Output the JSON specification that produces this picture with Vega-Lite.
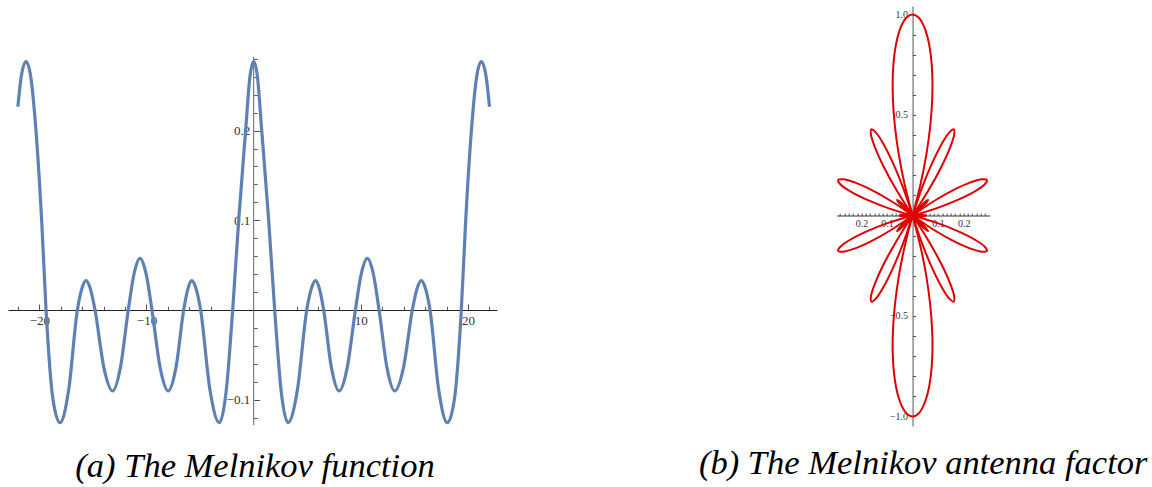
{
  "$schema": "https://vega.github.io/schema/vega-lite/v6.json",
  "background": "white",
  "padding": {"left": 8, "top": 6, "right": 0, "bottom": 0},
  "autosize": {"type": "pad"},
  "bounds": "flush",
  "spacing": 339.7,
  "config": {
    "view": {"stroke": null},
    "axis": {"grid": false, "labelFont": "Liberation Serif", "labelColor": "#333", "domainColor": "#444", "tickColor": "#555", "labelOverlap": false, "labelFlush": false, "domainWidth": 1, "tickWidth": 1}
  },
  "datasets": {
    "melnikov": [
      {"x": -22, "y": 0.2266}, {"x": -21.7, "y": 0.259}, {"x": -21.24, "y": 0.277}, {"x": -20.8, "y": 0.26}, {"x": -20.31, "y": 0.2}, {"x": -19.78, "y": 0.1}, {"x": -19.37, "y": 0}, {"x": -18.72, "y": -0.1}, {"x": -18.07, "y": -0.1256}, {"x": -17.26, "y": -0.089}, {"x": -16.45, "y": 0}, {"x": -16.05, "y": 0.023}, {"x": -15.64, "y": 0.0327}, {"x": -15.22, "y": 0.023}, {"x": -14.8, "y": 0}, {"x": -13.98, "y": -0.064}, {"x": -13.16, "y": -0.0903}, {"x": -12.43, "y": -0.064}, {"x": -11.7, "y": 0}, {"x": -11.15, "y": 0.041}, {"x": -10.6, "y": 0.0576}, {"x": -10.05, "y": 0.041}, {"x": -9.49, "y": 0}, {"x": -8.73, "y": -0.064}, {"x": -7.97, "y": -0.0903}, {"x": -7.25, "y": -0.064}, {"x": -6.53, "y": 0}, {"x": -6.15, "y": 0.023}, {"x": -5.78, "y": 0.0327}, {"x": -5.36, "y": 0.023}, {"x": -4.95, "y": 0}, {"x": -4.08, "y": -0.089}, {"x": -3.2, "y": -0.1256}, {"x": -2.58, "y": -0.092}, {"x": -1.96, "y": 0}, {"x": -1.4, "y": 0.1}, {"x": -0.75, "y": 0.2}, {"x": -0.35, "y": 0.26}, {"x": 0, "y": 0.277},
      {"x": 0.35, "y": 0.26}, {"x": 0.75, "y": 0.2}, {"x": 1.4, "y": 0.1}, {"x": 1.96, "y": 0}, {"x": 2.58, "y": -0.092}, {"x": 3.2, "y": -0.1256}, {"x": 4.08, "y": -0.089}, {"x": 4.95, "y": 0}, {"x": 5.36, "y": 0.023}, {"x": 5.78, "y": 0.0327}, {"x": 6.15, "y": 0.023}, {"x": 6.53, "y": 0}, {"x": 7.25, "y": -0.064}, {"x": 7.97, "y": -0.0903}, {"x": 8.73, "y": -0.064}, {"x": 9.49, "y": 0}, {"x": 10.05, "y": 0.041}, {"x": 10.6, "y": 0.0576}, {"x": 11.15, "y": 0.041}, {"x": 11.7, "y": 0}, {"x": 12.43, "y": -0.064}, {"x": 13.16, "y": -0.0903}, {"x": 13.98, "y": -0.064}, {"x": 14.8, "y": 0}, {"x": 15.22, "y": 0.023}, {"x": 15.64, "y": 0.0327}, {"x": 16.05, "y": 0.023}, {"x": 16.45, "y": 0}, {"x": 17.26, "y": -0.089}, {"x": 18.07, "y": -0.1256}, {"x": 18.72, "y": -0.1}, {"x": 19.37, "y": 0}, {"x": 19.78, "y": 0.1}, {"x": 20.31, "y": 0.2}, {"x": 20.8, "y": 0.26}, {"x": 21.24, "y": 0.277}, {"x": 21.7, "y": 0.259}, {"x": 22, "y": 0.2266}
    ],
    "antenna": [
      {"lobe": "A", "i": 0, "x": 0, "y": 0}, {"lobe": "A", "i": 1, "x": -0.0305, "y": 0.1515}, {"lobe": "A", "i": 2, "x": -0.0538, "y": 0.3013}, {"lobe": "A", "i": 3, "x": -0.0692, "y": 0.4453}, {"lobe": "A", "i": 4, "x": -0.077, "y": 0.5796}, {"lobe": "A", "i": 5, "x": -0.0773, "y": 0.7002}, {"lobe": "A", "i": 6, "x": -0.0708, "y": 0.804}, {"lobe": "A", "i": 7, "x": -0.0586, "y": 0.8879}, {"lobe": "A", "i": 8, "x": -0.0417, "y": 0.9496}, {"lobe": "A", "i": 9, "x": -0.0216, "y": 0.9873}, {"lobe": "A", "i": 10, "x": 0, "y": 1}, {"lobe": "A", "i": 11, "x": 0.0216, "y": 0.9873}, {"lobe": "A", "i": 12, "x": 0.0417, "y": 0.9496}, {"lobe": "A", "i": 13, "x": 0.0586, "y": 0.8879}, {"lobe": "A", "i": 14, "x": 0.0708, "y": 0.804}, {"lobe": "A", "i": 15, "x": 0.0773, "y": 0.7002}, {"lobe": "A", "i": 16, "x": 0.077, "y": 0.5796}, {"lobe": "A", "i": 17, "x": 0.0692, "y": 0.4453}, {"lobe": "A", "i": 18, "x": 0.0538, "y": 0.3013}, {"lobe": "A", "i": 19, "x": 0.0305, "y": 0.1515}, {"lobe": "A", "i": 20, "x": 0, "y": 0},
      {"lobe": "B", "i": 0, "x": 0, "y": 0}, {"lobe": "B", "i": 1, "x": -0.0305, "y": -0.1515}, {"lobe": "B", "i": 2, "x": -0.0538, "y": -0.3013}, {"lobe": "B", "i": 3, "x": -0.0692, "y": -0.4453}, {"lobe": "B", "i": 4, "x": -0.077, "y": -0.5796}, {"lobe": "B", "i": 5, "x": -0.0773, "y": -0.7002}, {"lobe": "B", "i": 6, "x": -0.0708, "y": -0.804}, {"lobe": "B", "i": 7, "x": -0.0586, "y": -0.8879}, {"lobe": "B", "i": 8, "x": -0.0417, "y": -0.9496}, {"lobe": "B", "i": 9, "x": -0.0216, "y": -0.9873}, {"lobe": "B", "i": 10, "x": 0, "y": -1}, {"lobe": "B", "i": 11, "x": 0.0216, "y": -0.9873}, {"lobe": "B", "i": 12, "x": 0.0417, "y": -0.9496}, {"lobe": "B", "i": 13, "x": 0.0586, "y": -0.8879}, {"lobe": "B", "i": 14, "x": 0.0708, "y": -0.804}, {"lobe": "B", "i": 15, "x": 0.0773, "y": -0.7002}, {"lobe": "B", "i": 16, "x": 0.077, "y": -0.5796}, {"lobe": "B", "i": 17, "x": 0.0692, "y": -0.4453}, {"lobe": "B", "i": 18, "x": 0.0538, "y": -0.3013}, {"lobe": "B", "i": 19, "x": 0.0305, "y": -0.1515}, {"lobe": "B", "i": 20, "x": 0, "y": 0},
      {"lobe": "M1", "i": 0, "x": 0, "y": 0}, {"lobe": "M1", "i": 1, "x": 0.0618, "y": 0.1241}, {"lobe": "M1", "i": 2, "x": 0.1121, "y": 0.2404}, {"lobe": "M1", "i": 3, "x": 0.1464, "y": 0.3365}, {"lobe": "M1", "i": 4, "x": 0.1629, "y": 0.402}, {"lobe": "M1", "i": 5, "x": 0.1614, "y": 0.4289}, {"lobe": "M1", "i": 6, "x": 0.1439, "y": 0.4136}, {"lobe": "M1", "i": 7, "x": 0.1141, "y": 0.3563}, {"lobe": "M1", "i": 8, "x": 0.0769, "y": 0.2618}, {"lobe": "M1", "i": 9, "x": 0.0372, "y": 0.1391}, {"lobe": "M1", "i": 10, "x": 0, "y": 0},
      {"lobe": "M2", "i": 0, "x": 0, "y": 0}, {"lobe": "M2", "i": 1, "x": -0.0618, "y": 0.1241}, {"lobe": "M2", "i": 2, "x": -0.1121, "y": 0.2404}, {"lobe": "M2", "i": 3, "x": -0.1464, "y": 0.3365}, {"lobe": "M2", "i": 4, "x": -0.1629, "y": 0.402}, {"lobe": "M2", "i": 5, "x": -0.1614, "y": 0.4289}, {"lobe": "M2", "i": 6, "x": -0.1439, "y": 0.4136}, {"lobe": "M2", "i": 7, "x": -0.1141, "y": 0.3563}, {"lobe": "M2", "i": 8, "x": -0.0769, "y": 0.2618}, {"lobe": "M2", "i": 9, "x": -0.0372, "y": 0.1391}, {"lobe": "M2", "i": 10, "x": 0, "y": 0},
      {"lobe": "M3", "i": 0, "x": 0, "y": 0}, {"lobe": "M3", "i": 1, "x": 0.0618, "y": -0.1241}, {"lobe": "M3", "i": 2, "x": 0.1121, "y": -0.2404}, {"lobe": "M3", "i": 3, "x": 0.1464, "y": -0.3365}, {"lobe": "M3", "i": 4, "x": 0.1629, "y": -0.402}, {"lobe": "M3", "i": 5, "x": 0.1614, "y": -0.4289}, {"lobe": "M3", "i": 6, "x": 0.1439, "y": -0.4136}, {"lobe": "M3", "i": 7, "x": 0.1141, "y": -0.3563}, {"lobe": "M3", "i": 8, "x": 0.0769, "y": -0.2618}, {"lobe": "M3", "i": 9, "x": 0.0372, "y": -0.1391}, {"lobe": "M3", "i": 10, "x": 0, "y": 0},
      {"lobe": "M4", "i": 0, "x": 0, "y": 0}, {"lobe": "M4", "i": 1, "x": -0.0618, "y": -0.1241}, {"lobe": "M4", "i": 2, "x": -0.1121, "y": -0.2404}, {"lobe": "M4", "i": 3, "x": -0.1464, "y": -0.3365}, {"lobe": "M4", "i": 4, "x": -0.1629, "y": -0.402}, {"lobe": "M4", "i": 5, "x": -0.1614, "y": -0.4289}, {"lobe": "M4", "i": 6, "x": -0.1439, "y": -0.4136}, {"lobe": "M4", "i": 7, "x": -0.1141, "y": -0.3563}, {"lobe": "M4", "i": 8, "x": -0.0769, "y": -0.2618}, {"lobe": "M4", "i": 9, "x": -0.0372, "y": -0.1391}, {"lobe": "M4", "i": 10, "x": 0, "y": 0},
      {"lobe": "H1", "i": 0, "x": 0, "y": 0}, {"lobe": "H1", "i": 1, "x": 0.0954, "y": 0.0368}, {"lobe": "H1", "i": 2, "x": 0.1793, "y": 0.0786}, {"lobe": "H1", "i": 3, "x": 0.2435, "y": 0.1198}, {"lobe": "H1", "i": 4, "x": 0.2819, "y": 0.1543}, {"lobe": "H1", "i": 5, "x": 0.2914, "y": 0.1763}, {"lobe": "H1", "i": 6, "x": 0.2721, "y": 0.1807}, {"lobe": "H1", "i": 7, "x": 0.2268, "y": 0.1646}, {"lobe": "H1", "i": 8, "x": 0.1611, "y": 0.1274}, {"lobe": "H1", "i": 9, "x": 0.0827, "y": 0.0709}, {"lobe": "H1", "i": 10, "x": 0, "y": 0},
      {"lobe": "H2", "i": 0, "x": 0, "y": 0}, {"lobe": "H2", "i": 1, "x": -0.0954, "y": 0.0368}, {"lobe": "H2", "i": 2, "x": -0.1793, "y": 0.0786}, {"lobe": "H2", "i": 3, "x": -0.2435, "y": 0.1198}, {"lobe": "H2", "i": 4, "x": -0.2819, "y": 0.1543}, {"lobe": "H2", "i": 5, "x": -0.2914, "y": 0.1763}, {"lobe": "H2", "i": 6, "x": -0.2721, "y": 0.1807}, {"lobe": "H2", "i": 7, "x": -0.2268, "y": 0.1646}, {"lobe": "H2", "i": 8, "x": -0.1611, "y": 0.1274}, {"lobe": "H2", "i": 9, "x": -0.0827, "y": 0.0709}, {"lobe": "H2", "i": 10, "x": 0, "y": 0},
      {"lobe": "H3", "i": 0, "x": 0, "y": 0}, {"lobe": "H3", "i": 1, "x": 0.0954, "y": -0.0368}, {"lobe": "H3", "i": 2, "x": 0.1793, "y": -0.0786}, {"lobe": "H3", "i": 3, "x": 0.2435, "y": -0.1198}, {"lobe": "H3", "i": 4, "x": 0.2819, "y": -0.1543}, {"lobe": "H3", "i": 5, "x": 0.2914, "y": -0.1763}, {"lobe": "H3", "i": 6, "x": 0.2721, "y": -0.1807}, {"lobe": "H3", "i": 7, "x": 0.2268, "y": -0.1646}, {"lobe": "H3", "i": 8, "x": 0.1611, "y": -0.1274}, {"lobe": "H3", "i": 9, "x": 0.0827, "y": -0.0709}, {"lobe": "H3", "i": 10, "x": 0, "y": 0},
      {"lobe": "H4", "i": 0, "x": 0, "y": 0}, {"lobe": "H4", "i": 1, "x": -0.0954, "y": -0.0368}, {"lobe": "H4", "i": 2, "x": -0.1793, "y": -0.0786}, {"lobe": "H4", "i": 3, "x": -0.2435, "y": -0.1198}, {"lobe": "H4", "i": 4, "x": -0.2819, "y": -0.1543}, {"lobe": "H4", "i": 5, "x": -0.2914, "y": -0.1763}, {"lobe": "H4", "i": 6, "x": -0.2721, "y": -0.1807}, {"lobe": "H4", "i": 7, "x": -0.2268, "y": -0.1646}, {"lobe": "H4", "i": 8, "x": -0.1611, "y": -0.1274}, {"lobe": "H4", "i": 9, "x": -0.0827, "y": -0.0709}, {"lobe": "H4", "i": 10, "x": 0, "y": 0},
      {"lobe": "S1", "i": 0, "x": 0, "y": 0}, {"lobe": "S1", "i": 1, "x": 0.0455, "y": 0.0513}, {"lobe": "S1", "i": 2, "x": 0.0608, "y": 0.0774}, {"lobe": "S1", "i": 3, "x": 0.0403, "y": 0.058}, {"lobe": "S1", "i": 4, "x": 0, "y": 0},
      {"lobe": "S2", "i": 0, "x": 0, "y": 0}, {"lobe": "S2", "i": 1, "x": -0.0455, "y": 0.0513}, {"lobe": "S2", "i": 2, "x": -0.0608, "y": 0.0774}, {"lobe": "S2", "i": 3, "x": -0.0403, "y": 0.058}, {"lobe": "S2", "i": 4, "x": 0, "y": 0},
      {"lobe": "S3", "i": 0, "x": 0, "y": 0}, {"lobe": "S3", "i": 1, "x": 0.0455, "y": -0.0513}, {"lobe": "S3", "i": 2, "x": 0.0608, "y": -0.0774}, {"lobe": "S3", "i": 3, "x": 0.0403, "y": -0.058}, {"lobe": "S3", "i": 4, "x": 0, "y": 0},
      {"lobe": "S4", "i": 0, "x": 0, "y": 0}, {"lobe": "S4", "i": 1, "x": -0.0455, "y": -0.0513}, {"lobe": "S4", "i": 2, "x": -0.0608, "y": -0.0774}, {"lobe": "S4", "i": 3, "x": -0.0403, "y": -0.058}, {"lobe": "S4", "i": 4, "x": 0, "y": 0},
      {"lobe": "Z1", "i": 0, "x": 0, "y": 0}, {"lobe": "Z1", "i": 1, "x": 0.0358, "y": 0.004}, {"lobe": "Z1", "i": 2, "x": 0.0508, "y": 0}, {"lobe": "Z1", "i": 3, "x": 0.0358, "y": -0.004}, {"lobe": "Z1", "i": 4, "x": 0, "y": 0},
      {"lobe": "Z2", "i": 0, "x": 0, "y": 0}, {"lobe": "Z2", "i": 1, "x": -0.0358, "y": 0.004}, {"lobe": "Z2", "i": 2, "x": -0.0508, "y": 0}, {"lobe": "Z2", "i": 3, "x": -0.0358, "y": -0.004}, {"lobe": "Z2", "i": 4, "x": 0, "y": 0}
    ]
  },
  "hconcat": [
    {
      "width": 489,
      "height": 420,
      "title": {"text": "(a) The Melnikov function", "orient": "bottom", "anchor": "middle", "frame": "group", "offset": 48, "baseline": "alphabetic", "dx": 2.5, "font": "Liberation Serif", "fontSize": 34.5, "fontStyle": "italic", "fontWeight": "normal", "color": "#000"},
      "resolve": {"axis": {"x": "independent", "y": "independent"}},
      "layer": [
        {
          "data": {"values": [{}]},
          "mark": {"type": "rule", "color": "#666", "strokeWidth": 1},
          "encoding": {
            "x": {"datum": 0, "type": "quantitative", "scale": {"domain": [-22.92, 22.7], "nice": false, "zero": false}, "axis": null},
            "y": {"datum": -0.1282, "type": "quantitative", "scale": {"domain": [-0.1293, 0.3389], "nice": false, "zero": false}, "axis": null},
            "y2": {"datum": 0.2823}
          }
        },
        {
          "data": {"name": "melnikov"},
          "mark": {"type": "line", "interpolate": "monotone", "color": "#5E81B5", "strokeWidth": 3.2},
          "encoding": {
            "x": {"field": "x", "type": "quantitative", "scale": {"domain": [-22.92, 22.7], "nice": false, "zero": false},
                  "axis": {"orient": "top", "offset": -304, "values": [-20, -10, 10, 20], "tickSize": 6, "labels": false, "domain": true, "domainColor": "#222", "title": null}},
            "y": {"field": "y", "type": "quantitative", "scale": {"domain": [-0.1293, 0.3389], "nice": false, "zero": false},
                  "axis": {"orient": "right", "offset": -243.32, "values": [-0.1, 0.1, 0.2], "tickSize": 6, "labels": false, "domain": false, "title": null}}
          }
        },
        {
          "data": {"name": "melnikov"},
          "mark": {"type": "line", "strokeOpacity": 0},
          "encoding": {
            "x": {"field": "x", "type": "quantitative", "scale": {"domain": [-22.92, 22.7], "nice": false, "zero": false},
                  "axis": {"orient": "top", "offset": -304, "values": [-22, -18, -16, -14, -12, -8, -6, -4, -2, 2, 4, 6, 8, 12, 14, 16, 18, 22], "tickSize": 3.5, "labels": false, "domain": false, "title": null}},
            "y": {"field": "y", "type": "quantitative", "scale": {"domain": [-0.1293, 0.3389], "nice": false, "zero": false},
                  "axis": {"orient": "right", "offset": -243.32, "values": [-0.12, -0.08, -0.06, -0.04, -0.02, 0.02, 0.04, 0.06, 0.08, 0.12, 0.14, 0.16, 0.18, 0.22, 0.24, 0.26, 0.28], "tickSize": 3.5, "labels": false, "domain": false, "title": null}}
          }
        },
        {
          "data": {"name": "melnikov"},
          "mark": {"type": "line", "strokeOpacity": 0},
          "encoding": {
            "x": {"field": "x", "type": "quantitative", "scale": {"domain": [-22.92, 22.7], "nice": false, "zero": false},
                  "axis": {"orient": "bottom", "offset": -116, "values": [-20, -10, 10, 20], "ticks": false, "tickSize": 0, "labelPadding": 4, "domain": false, "format": "d", "labelFontSize": 13, "title": null}},
            "y": {"field": "y", "type": "quantitative", "scale": {"domain": [-0.1293, 0.3389], "nice": false, "zero": false},
                  "axis": {"orient": "left", "offset": -245.68, "values": [-0.1, 0.1, 0.2], "ticks": false, "tickSize": 0, "labelPadding": 4, "domain": false, "format": ".1f", "labelFontSize": 13, "title": null}}
          }
        }
      ]
    },
    {
      "width": 153,
      "height": 420,
      "title": {"text": "(b) The Melnikov antenna factor", "orient": "bottom", "anchor": "middle", "frame": "group", "offset": 48, "baseline": "alphabetic", "dx": 10, "font": "Liberation Serif", "fontSize": 34.5, "fontStyle": "italic", "fontWeight": "normal", "color": "#000"},
      "resolve": {"axis": {"x": "independent", "y": "independent"}},
      "layer": [
        {
          "data": {"name": "antenna"},
          "mark": {"type": "line", "interpolate": "catmull-rom", "color": "#E00000", "strokeWidth": 2},
          "encoding": {
            "x": {"field": "x", "type": "quantitative", "scale": {"domain": [-0.297, 0.302], "nice": false, "zero": false},
                  "axis": {"orient": "top", "offset": -209.5, "values": [-0.2833, -0.2667, -0.25, -0.2333, -0.2167, -0.2, -0.1833, -0.1667, -0.15, -0.1333, -0.1167, -0.1, -0.0833, -0.0667, -0.05, -0.0333, -0.0167, 0.0167, 0.0333, 0.05, 0.0667, 0.0833, 0.1, 0.1167, 0.1333, 0.15, 0.1667, 0.1833, 0.2, 0.2167, 0.2333, 0.25, 0.2667, 0.2833], "tickSize": 2.5, "labels": false, "domain": true, "domainColor": "#333", "title": null}},
            "y": {"field": "y", "type": "quantitative", "scale": {"domain": [-1.0473, 1.0423], "nice": false, "zero": false},
                  "axis": {"orient": "right", "offset": -77.14, "values": [-1, -0.9, -0.8, -0.7, -0.6, -0.5, -0.4, -0.3, -0.2, -0.1, 0.1, 0.2, 0.3, 0.4, 0.5, 0.6, 0.7, 0.8, 0.9, 1], "tickSize": 3, "labels": false, "domain": true, "domainColor": "#555", "title": null}},
            "detail": {"field": "lobe"},
            "order": {"field": "i", "type": "quantitative"}
          }
        },
        {
          "data": {"name": "antenna"},
          "mark": {"type": "line", "strokeOpacity": 0},
          "encoding": {
            "x": {"field": "x", "type": "quantitative", "scale": {"domain": [-0.297, 0.302], "nice": false, "zero": false},
                  "axis": {"orient": "bottom", "offset": -210.5, "values": [-0.2, -0.1, 0.1, 0.2], "ticks": false, "tickSize": 0, "labelPadding": 3, "domain": false, "labelExpr": "format(abs(datum.value), '.1f')", "labelFontSize": 10, "title": null}},
            "y": {"field": "y", "type": "quantitative", "scale": {"domain": [-1.0473, 1.0423], "nice": false, "zero": false},
                  "axis": {"orient": "left", "offset": -75.86, "values": [-1, -0.5, 0.5, 1], "ticks": false, "tickSize": 0, "labelPadding": 5, "domain": false, "format": ".1f", "labelFontSize": 10, "title": null}},
            "detail": {"field": "lobe"},
            "order": {"field": "i", "type": "quantitative"}
          }
        }
      ]
    }
  ]
}
